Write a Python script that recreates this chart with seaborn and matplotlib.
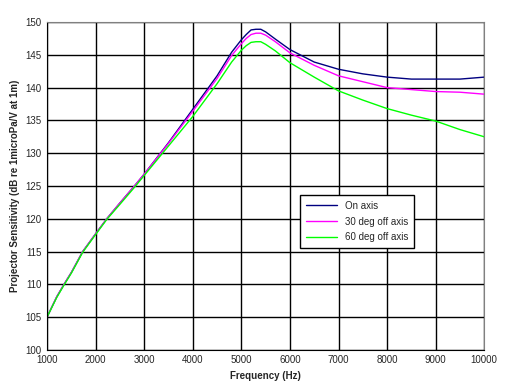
import matplotlib
matplotlib.use("Agg")
import matplotlib.pyplot as plt
import pandas as pd
import seaborn as sns

# values
freq = [1000, 1200, 1350, 1500, 1735, 2000, 2230, 2500, 2800, 3000, 3500, 4000, 4500,
        4800, 5000, 5100, 5200, 5300, 5400, 5500, 5700,
        6000, 6500, 7000, 7500, 8000, 8500, 9000, 9500, 10000]
on_axis = [105.0, 108.1, 110.0, 111.8, 115.0, 117.7, 120.0, 122.4, 125.0, 126.8, 131.6, 136.7, 141.8,
           145.4, 147.3, 148.1, 148.8, 148.9, 148.9, 148.5, 147.4,
           145.8, 143.9, 142.8, 142.1, 141.6, 141.3, 141.3, 141.3, 141.6]
off_30 = [105.0, 108.1, 110.0, 111.8, 115.0, 117.7, 120.0, 122.4, 125.0, 126.8, 131.5, 136.4, 141.4,
          144.9, 146.7, 147.5, 148.1, 148.3, 148.3, 148.0, 147.0,
          145.3, 143.4, 141.8, 140.9, 140.0, 139.7, 139.4, 139.3, 139.0]
off_60 = [105.0, 108.0, 109.9, 111.7, 114.9, 117.6, 119.9, 122.2, 124.8, 126.6, 131.1, 135.6, 140.6,
          143.9, 145.7, 146.4, 146.9, 147.0, 147.0, 146.6, 145.6,
          143.8, 141.6, 139.5, 138.1, 136.8, 135.8, 134.9, 133.6, 132.5]

series = ["On axis", "30 deg off axis", "60 deg off axis"]
colors = ["#000080", "#ff00ff", "#00ff00"]

df = pd.DataFrame({
    "freq": freq * 3,
    "level": on_axis + off_30 + off_60,
    "series": [series[0]] * len(freq) + [series[1]] * len(freq) + [series[2]] * len(freq),
})

sns.set_style("white")
plt.rcParams["font.family"] = ["Liberation Sans", "DejaVu Sans"]

fig = plt.figure(figsize=(5.06, 3.87), dpi=100)
ax = fig.add_axes([0.093, 0.096, 0.864, 0.847])

sns.lineplot(data=df, x="freq", y="level", hue="series", hue_order=series,
             palette=colors, linewidth=1, ax=ax)

ax.set_xlim(1000, 10000)
ax.set_ylim(100, 150)
ax.set_xticks(range(1000, 10001, 1000))
ax.set_yticks(range(100, 151, 5))
ax.grid(True, color="black", linewidth=1)
ax.tick_params(labelsize=7, length=0, pad=4)
for s in ["left", "bottom"]:
    ax.spines[s].set_color("black")
for s in ["top", "right"]:
    ax.spines[s].set_color("#808080")

ax.set_xlabel("Frequency (Hz)", fontsize=7, fontweight="bold")
ax.set_ylabel("Projector Sensitivity (dB re 1microPa/V at 1m)", fontsize=7, fontweight="bold")

leg = ax.legend(loc="lower left", bbox_to_anchor=(0.567, 0.295), fontsize=7,
                frameon=True, fancybox=False, edgecolor="black", framealpha=1,
                handlelength=3.2, borderpad=0.6, labelspacing=0.6)
leg.get_frame().set_linewidth(1)

fig.savefig("out.png", dpi=100)
